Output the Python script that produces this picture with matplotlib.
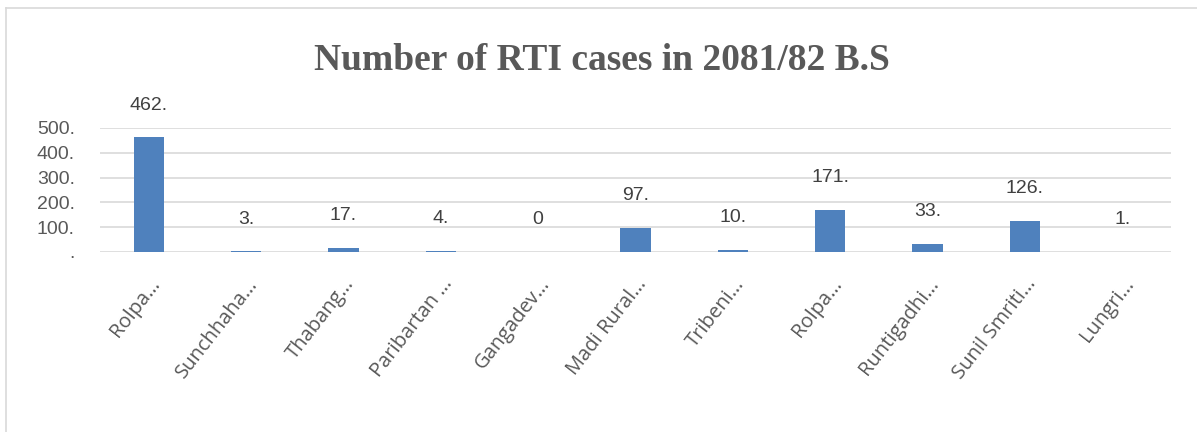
import matplotlib
matplotlib.use("Agg")
import matplotlib.pyplot as plt
from matplotlib.lines import Line2D

categories = ["Rolpa…", "Sunchhaha…", "Thabang…", "Paribartan …", "Gangadev…",
              "Madi Rural…", "Tribeni…", "Rolpa…", "Runtigadhi…", "Sunil Smriti…", "Lungri…"]
values = [462, 3, 17, 4, 0, 97, 10, 171, 33, 126, 1]
yticks = [0, 100, 200, 300, 400, 500]
ytick_labels = ["." if v == 0 else f"{v}." for v in yticks]
data_labels = ["0" if v == 0 else f"{v}." for v in values]

fig = plt.figure(figsize=(11.97, 4.32), dpi=100)
ax = fig.add_axes([100/1197, 1-252/432, (1171-100)/1197, (252-128)/432])

x = list(range(len(categories)))
bars = ax.bar(x, values, width=0.31, color="#4f81bd", zorder=3)
ax.set_xlim(-0.5, len(categories)-0.5)
ax.set_ylim(0, 500)
ax.set_yticks(yticks)
ax.set_yticklabels(ytick_labels, fontfamily="Liberation Sans", fontsize=14, color="#595959")
ax.yaxis.grid(True, color="#d9d9d9", linewidth=1.2, zorder=0)
for s in ax.spines.values():
    s.set_visible(False)
ax.tick_params(axis="both", length=0)
ax.tick_params(axis="y", pad=18)
ax.set_xticks(x)
ax.set_xticklabels(categories, rotation=52, ha="right", rotation_mode="anchor",
                   fontfamily="Open Sans", fontsize=14.5, color="#595959")
ax.tick_params(axis="x", pad=16)

for xi, v, lab in zip(x, values, data_labels):
    ax.annotate(lab, (xi, v), xytext=(0, 17), textcoords="offset points",
                ha="center", va="bottom", fontfamily="Liberation Sans",
                fontsize=14, color="#404040")

fig.text(0.503, 1-60/432, "Number of RTI cases in 2081/82 B.S", ha="center", va="center",
         fontfamily="Liberation Serif", fontweight="bold", fontsize=27, color="#595959")

# chart border (left and top visible)
fig.add_artist(Line2D([6/1197, 6/1197], [0, 1-8/432], transform=fig.transFigure,
                      color="#d9d9d9", linewidth=1.2))
fig.add_artist(Line2D([6/1197, 1], [1-8/432, 1-8/432], transform=fig.transFigure,
                      color="#d9d9d9", linewidth=1.2))

fig.savefig("out.png", dpi=100)
